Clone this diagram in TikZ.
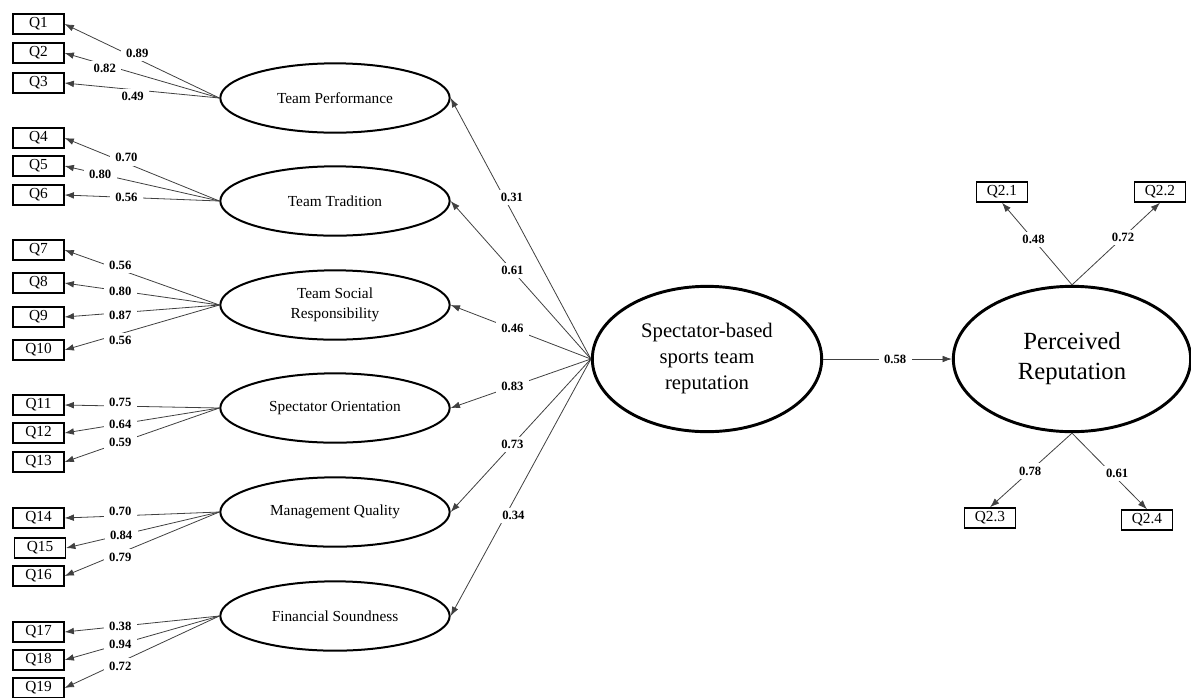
\documentclass[tikz,border=0pt]{standalone}
\usepackage{fontspec}
\setmainfont{Liberation Serif}
\usetikzlibrary{arrows.meta,shapes.geometric}

\begin{document}
\begin{tikzpicture}[x=0.75pt, y=-0.75pt,
                    ITEM/.style={rectangle, draw=black, line width=1.1pt, minimum width=38pt, minimum height=15pt, inner sep=0pt, font=\fontsize{11.5}{12}\selectfont},
                    FACTOR/.style={ellipse, draw=black, line width=1.5pt, minimum width=172pt, minimum height=52pt, inner sep=0pt, align=center, font=\fontsize{11.5}{15}\selectfont},
                    MAIN/.style={ellipse, draw=black, line width=2.2pt, minimum height=109pt, inner sep=0pt, align=center},
                    COEF/.style={fill=white, inner xsep=4pt, inner ysep=2.5pt, font=\fontsize{9.5}{10}\selectfont\bfseries},
                    LOAD/.style={-{Latex[length=7pt,width=5pt]}, draw=black!75, line width=0.6pt},
                ]
                \useasboundingbox (0,0) rectangle (1191,697);

                % first order factors
                \node[FACTOR] (Team_Perf)    at (335,98)  {Team Performance};
                \node[FACTOR] (Team_Trad)    at (335,201) {Team Tradition};
                \node[FACTOR] (Team_Social)  at (335,305) {Team Social\\Responsibility};
                \node[FACTOR] (Spec_Orient)  at (335,408) {Spectator Orientation};
                \node[FACTOR] (Mgmt_Quality) at (335,512) {Management Quality};
                \node[FACTOR] (Fin_Sound)    at (335,616) {Financial Soundness};

                \node[MAIN, minimum width=172pt, font=\fontsize{15.5}{19.5}\selectfont] (Spec_Rep) at (707,359) {Spectator-based\\sports team\\reputation};
                \node[MAIN, minimum width=178pt, font=\fontsize{18.5}{22.5}\selectfont] (Perc_Rep) at (1072,359) {Perceived\\Reputation};

                % items
                \node[ITEM] (Q1)  at (38.5,24)  {Q1};
                \node[ITEM] (Q2)  at (38.5,53)  {Q2};
                \node[ITEM] (Q3)  at (38.5,83)  {Q3};
                \node[ITEM] (Q4)  at (38.5,138) {Q4};
                \node[ITEM] (Q5)  at (38.5,166) {Q5};
                \node[ITEM] (Q6)  at (38.5,195) {Q6};
                \node[ITEM] (Q7)  at (38.5,250) {Q7};
                \node[ITEM] (Q8)  at (38.5,283) {Q8};
                \node[ITEM] (Q9)  at (38.5,317) {Q9};
                \node[ITEM] (Q10) at (38.5,350) {Q10};
                \node[ITEM] (Q11) at (38.5,405) {Q11};
                \node[ITEM] (Q12) at (38.5,433) {Q12};
                \node[ITEM] (Q13) at (38.5,462) {Q13};
                \node[ITEM] (Q14) at (38.5,518) {Q14};
                \node[ITEM] (Q15) at (40,548)   {Q15};
                \node[ITEM] (Q16) at (38.5,576) {Q16};
                \node[ITEM] (Q17) at (38.5,632) {Q17};
                \node[ITEM] (Q18) at (38.5,660) {Q18};
                \node[ITEM] (Q19) at (38.5,688) {Q19};
                \node[ITEM] (Q2_1) at (1002,192) {Q2.1};
                \node[ITEM] (Q2_2) at (1160,192) {Q2.2};
                \node[ITEM] (Q2_3) at (990,518)  {Q2.3};
                \node[ITEM] (Q2_4) at (1147,520) {Q2.4};

                % loadings
                \draw[LOAD] (Team_Perf.west) to node[COEF,pos=0.53,yshift=4pt] {0.89} (Q1.east);
                \draw[LOAD] (Team_Perf.west) to node[COEF,pos=0.74,yshift=-3pt] {0.82} (Q2.east);
                \draw[LOAD] (Team_Perf.west) to node[COEF,pos=0.56,yshift=-5pt] {0.49} (Q3.east);
                \draw[LOAD] (Team_Trad.west) to node[COEF,pos=0.6,yshift=4pt] {0.70} (Q4.east);
                \draw[LOAD] (Team_Trad.west) to node[COEF,pos=0.77] {0.80} (Q5.east);
                \draw[LOAD] (Team_Trad.west) to node[COEF,pos=0.6] {0.56} (Q6.east);
                \draw[LOAD] (Team_Social.west) to node[COEF,pos=0.64,yshift=3pt] {0.56} (Q7.east);
                \draw[LOAD] (Team_Social.west) to node[COEF,pos=0.64] {0.80} (Q8.east);
                \draw[LOAD] (Team_Social.west) to node[COEF,pos=0.64,yshift=-2pt] {0.87} (Q9.east);
                \draw[LOAD] (Team_Social.west) to node[COEF,pos=0.64,yshift=-5pt] {0.56} (Q10.east);
                \draw[LOAD] (Spec_Orient.west) to node[COEF,pos=0.64,yshift=3pt] {0.75} (Q11.east);
                \draw[LOAD] (Spec_Orient.west) to node[COEF,pos=0.64] {0.64} (Q12.east);
                \draw[LOAD] (Spec_Orient.west) to node[COEF,pos=0.64] {0.59} (Q13.east);
                \draw[LOAD] (Mgmt_Quality.west) to node[COEF,pos=0.64,yshift=3pt] {0.70} (Q14.east);
                \draw[LOAD] (Mgmt_Quality.west) to node[COEF,pos=0.64] {0.84} (Q15.east);
                \draw[LOAD] (Mgmt_Quality.west) to node[COEF,pos=0.64,yshift=-3pt] {0.79} (Q16.east);
                \draw[LOAD] (Fin_Sound.west) to node[COEF,pos=0.64] {0.38} (Q17.east);
                \draw[LOAD] (Fin_Sound.west) to node[COEF,pos=0.64] {0.94} (Q18.east);
                \draw[LOAD] (Fin_Sound.west) to node[COEF,pos=0.64,yshift=-3pt] {0.72} (Q19.east);

                % second order paths
                \draw[LOAD] (Spec_Rep.west) to node[COEF,pos=0.62,xshift=6pt] {0.31} (Team_Perf.east);
                \draw[LOAD] (Spec_Rep.west) to node[COEF,pos=0.56] {0.61} (Team_Trad.east);
                \draw[LOAD] (Spec_Rep.west) to node[COEF,pos=0.56] {0.46} (Team_Social.east);
                \draw[LOAD] (Spec_Rep.west) to node[COEF,pos=0.56] {0.83} (Spec_Orient.east);
                \draw[LOAD] (Spec_Rep.west) to node[COEF,pos=0.56] {0.73} (Mgmt_Quality.east);
                \draw[LOAD] (Spec_Rep.west) to node[COEF,pos=0.61,xshift=6pt] {0.34} (Fin_Sound.east);

                \draw[LOAD] (Spec_Rep.east) to node[COEF,pos=0.56] {0.58} (Perc_Rep.west);

                \draw[LOAD] (Perc_Rep.north) to node[COEF,pos=0.55] {0.48} (Q2_1.south);
                \draw[LOAD] (Perc_Rep.north) to node[COEF,pos=0.58] {0.72} (Q2_2.south);
                \draw[LOAD] (Perc_Rep.south) to node[COEF,pos=0.51] {0.78} (Q2_3.north);
                \draw[LOAD] (Perc_Rep.south) to node[COEF,pos=0.53,xshift=4pt] {0.61} (Q2_4.north);

            \end{tikzpicture}
\end{document}
